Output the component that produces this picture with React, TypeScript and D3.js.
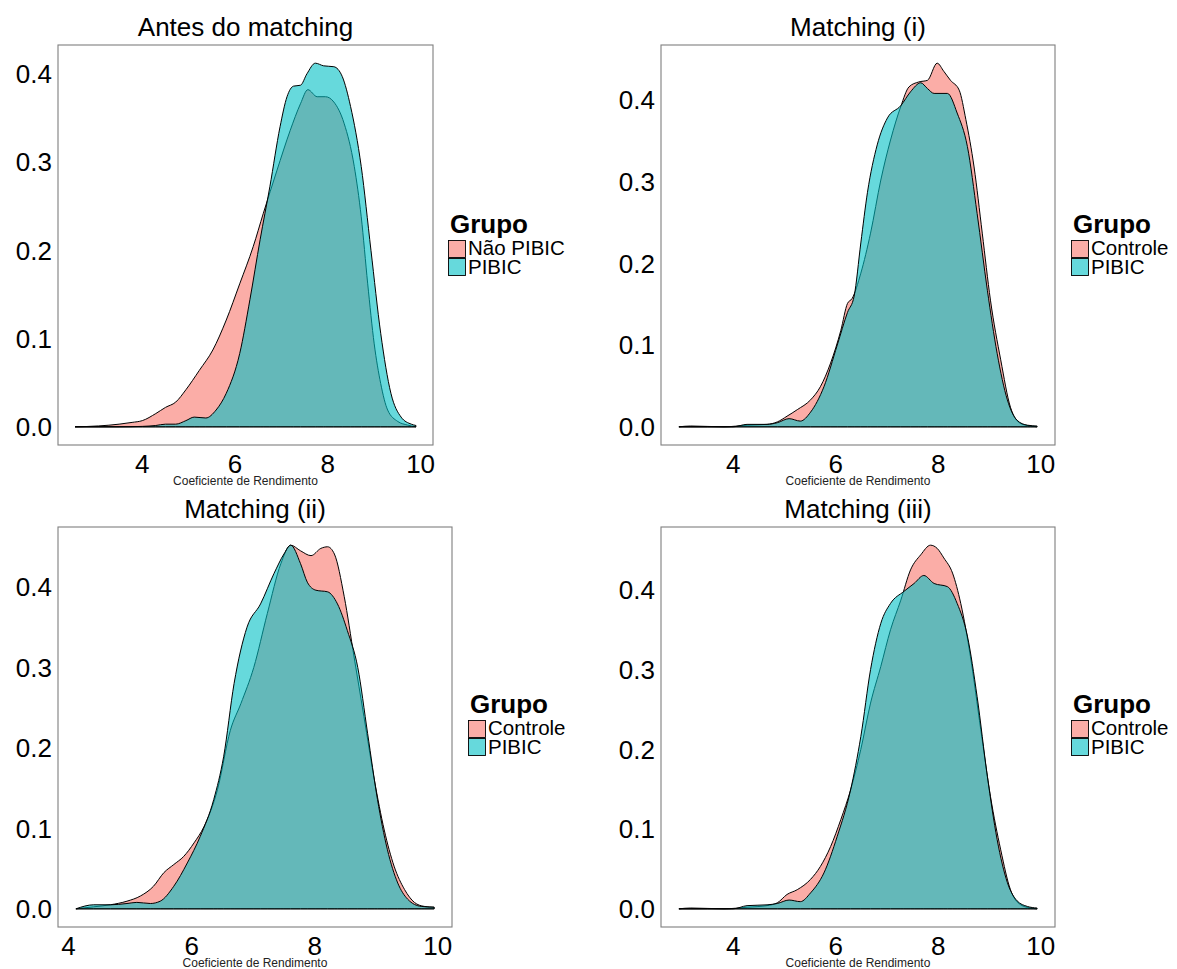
import React from 'react';
import * as d3 from 'd3';

// ---------- data ----------
const xTicks = [4, 6, 8, 10];
const yTicks = [0, 0.1, 0.2, 0.3, 0.4];
const yTickLabels = ['0.0', '0.1', '0.2', '0.3', '0.4'];
const legendTitle = 'Grupo';
const xAxisTitle = 'Coeficiente de Rendimento';
const panelTitles = ['Antes do matching', 'Matching (i)', 'Matching (ii)', 'Matching (iii)'];
const legendLabels = [
  ['Não PIBIC', 'PIBIC'],
  ['Controle', 'PIBIC'],
  ['Controle', 'PIBIC'],
  ['Controle', 'PIBIC'],
];

// Panel 1: Antes do matching
const antesNaoPibicX = [2.55, 3.06, 3.5, 3.78, 4.0, 4.29, 4.5, 4.72, 4.94, 5.23, 5.52, 5.81, 6.1, 6.39, 6.61, 6.9, 7.19, 7.41, 7.57, 7.77, 7.95, 8.13, 8.35, 8.57, 8.72, 8.86, 9.0, 9.14, 9.29, 9.51, 9.72, 9.9];
const antesNaoPibicY = [0, 0.001, 0.003, 0.005, 0.007, 0.015, 0.022, 0.028, 0.042, 0.064, 0.087, 0.121, 0.162, 0.204, 0.242, 0.29, 0.336, 0.366, 0.382, 0.374, 0.374, 0.368, 0.344, 0.295, 0.238, 0.162, 0.094, 0.049, 0.019, 0.006, 0.002, 0];
const antesPibicX = [2.55, 3.5, 4.0, 4.29, 4.5, 4.72, 4.94, 5.12, 5.37, 5.59, 5.81, 6.1, 6.32, 6.54, 6.75, 6.97, 7.12, 7.26, 7.41, 7.55, 7.73, 7.91, 8.13, 8.31, 8.49, 8.72, 8.93, 9.14, 9.36, 9.58, 9.8, 9.9];
const antesPibicY = [0, 0, 0.0005, 0.0015, 0.003, 0.003, 0.007, 0.011, 0.01, 0.019, 0.038, 0.083, 0.144, 0.212, 0.272, 0.34, 0.374, 0.386, 0.387, 0.4, 0.412, 0.409, 0.408, 0.397, 0.363, 0.295, 0.2, 0.106, 0.038, 0.011, 0.003, 0.0015];

// Panel 2: Matching (i)
const m1ControleX = [2.94, 3.17, 3.82, 4.27, 4.66, 4.86, 5.05, 5.25, 5.51, 5.7, 5.9, 6.1, 6.23, 6.32, 6.49, 6.68, 6.88, 7.07, 7.27, 7.43, 7.62, 7.79, 7.98, 8.11, 8.24, 8.41, 8.54, 8.7, 8.86, 9.02, 9.22, 9.41, 9.61, 9.8, 9.93];
const m1ControleY = [0, 0.001, 0, 0.002, 0.003, 0.006, 0.013, 0.021, 0.033, 0.049, 0.078, 0.118, 0.151, 0.157, 0.188, 0.237, 0.302, 0.351, 0.392, 0.416, 0.422, 0.424, 0.445, 0.435, 0.424, 0.412, 0.376, 0.318, 0.237, 0.155, 0.082, 0.024, 0.004, 0.001, 0];
const m1PibicX = [2.94, 3.5, 4.0, 4.27, 4.66, 4.86, 5.09, 5.31, 5.51, 5.77, 6.03, 6.23, 6.36, 6.49, 6.62, 6.81, 7.01, 7.27, 7.46, 7.66, 7.79, 7.92, 8.18, 8.37, 8.57, 8.76, 8.96, 9.15, 9.35, 9.54, 9.74, 9.93];
const m1PibicY = [0, 0, 0, 0.003, 0.003, 0.005, 0.01, 0.007, 0.018, 0.049, 0.1, 0.14, 0.16, 0.225, 0.287, 0.345, 0.378, 0.393, 0.41, 0.421, 0.414, 0.408, 0.408, 0.384, 0.343, 0.261, 0.167, 0.09, 0.033, 0.008, 0.002, 0.001];

// Panel 3: Matching (ii)
const m2ControleX = [4.12, 4.41, 4.68, 4.95, 5.17, 5.38, 5.55, 5.71, 5.87, 6.04, 6.2, 6.42, 6.63, 6.8, 7.01, 7.23, 7.45, 7.61, 7.77, 7.94, 8.1, 8.21, 8.32, 8.48, 8.64, 8.8, 8.97, 9.13, 9.29, 9.46, 9.62, 9.78, 9.94];
const m2ControleY = [0, 0.0025, 0.005, 0.0095, 0.016, 0.028, 0.045, 0.055, 0.065, 0.082, 0.102, 0.148, 0.222, 0.255, 0.3, 0.367, 0.429, 0.452, 0.445, 0.439, 0.448, 0.45, 0.441, 0.388, 0.313, 0.239, 0.16, 0.098, 0.053, 0.024, 0.008, 0.003, 0.002];
const m2PibicX = [4.12, 4.41, 4.68, 4.95, 5.11, 5.33, 5.49, 5.71, 5.93, 6.14, 6.36, 6.52, 6.69, 6.9, 7.12, 7.34, 7.5, 7.61, 7.77, 7.88, 8.02, 8.21, 8.37, 8.53, 8.7, 8.86, 9.02, 9.18, 9.35, 9.51, 9.73, 9.94];
const m2PibicY = [0, 0.005, 0.005, 0.0066, 0.008, 0.0066, 0.0095, 0.028, 0.057, 0.09, 0.136, 0.189, 0.28, 0.35, 0.379, 0.417, 0.441, 0.452, 0.429, 0.406, 0.396, 0.394, 0.379, 0.346, 0.3, 0.218, 0.136, 0.074, 0.032, 0.012, 0.003, 0.002];

// Panel 4: Matching (iii)
const m3ControleX = [2.94, 3.17, 3.82, 4.27, 4.66, 4.86, 5.05, 5.25, 5.51, 5.7, 5.9, 6.1, 6.29, 6.49, 6.68, 6.88, 7.07, 7.27, 7.46, 7.66, 7.85, 7.98, 8.11, 8.28, 8.44, 8.63, 8.83, 9.02, 9.22, 9.41, 9.61, 9.8, 9.93];
const m3ControleY = [0, 0.001, 0, 0.002, 0.004, 0.0075, 0.018, 0.024, 0.037, 0.053, 0.078, 0.112, 0.149, 0.2, 0.258, 0.304, 0.35, 0.387, 0.425, 0.444, 0.456, 0.452, 0.44, 0.421, 0.383, 0.316, 0.225, 0.141, 0.074, 0.024, 0.005, 0.001, 0];
const m3PibicX = [2.94, 3.5, 4.0, 4.27, 4.66, 4.86, 5.09, 5.31, 5.51, 5.77, 6.03, 6.29, 6.49, 6.68, 6.88, 7.07, 7.33, 7.53, 7.72, 7.92, 8.18, 8.37, 8.57, 8.76, 8.96, 9.15, 9.35, 9.54, 9.74, 9.93];
const m3PibicY = [0, 0, 0, 0.004, 0.005, 0.0067, 0.011, 0.009, 0.02, 0.045, 0.091, 0.149, 0.216, 0.3, 0.358, 0.383, 0.398, 0.408, 0.418, 0.408, 0.404, 0.383, 0.342, 0.266, 0.166, 0.087, 0.033, 0.01, 0.003, 0.001];

const panelSeries = [
  [[antesNaoPibicX, antesNaoPibicY], [antesPibicX, antesPibicY]],
  [[m1ControleX, m1ControleY], [m1PibicX, m1PibicY]],
  [[m2ControleX, m2ControleY], [m2PibicX, m2PibicY]],
  [[m3ControleX, m3ControleY], [m3PibicX, m3PibicY]],
];

// ---------- layout / style ----------
const COLORS = ['#F8766D', '#00BFC4'];
const FONT = 'Liberation Sans, Arial, Helvetica, sans-serif';
const boxes = [
  { l: 58, r: 433, t: 45, b: 445, lx: 448, ly: 233 },
  { l: 661, r: 1055, t: 45, b: 445, lx: 1071, ly: 233 },
  { l: 58, r: 452, t: 527, b: 927, lx: 468, ly: 713 },
  { l: 661, r: 1055, t: 527, b: 927, lx: 1071, ly: 713 },
];

function Panel({ idx }: { idx: number }) {
  const box = boxes[idx];
  const series = panelSeries[idx];
  const allX = series.flatMap((s) => s[0]);
  const allY = series.flatMap((s) => s[1]);
  const xmin = d3.min(allX) as number;
  const xmax = d3.max(allX) as number;
  const ymax = d3.max(allY) as number;
  const xr = xmax - xmin;
  const x = d3.scaleLinear().domain([xmin - 0.05 * xr, xmax + 0.05 * xr]).range([box.l, box.r]);
  const y = d3.scaleLinear().domain([-0.05 * ymax, 1.05 * ymax]).range([box.b, box.t]);
  const area = d3
    .area<[number, number]>()
    .x((d) => x(d[0]))
    .y0(y(0))
    .y1((d) => y(d[1]))
    .curve(d3.curveMonotoneX);
  const cx = (box.l + box.r) / 2;
  const ly = box.ly;
  return (
    <g>
      {series.map((s, i) => {
        const pts = s[0].map((xv, k) => [xv, s[1][k]] as [number, number]);
        return (
          <path
            key={i}
            d={area(pts) as string}
            fill={COLORS[i]}
            fillOpacity={0.6}
            stroke="#000"
            strokeWidth={1}
            strokeLinejoin="round"
          />
        );
      })}
      <rect x={box.l} y={box.t} width={box.r - box.l} height={box.b - box.t} fill="none" stroke="#7f7f7f" strokeWidth={1.1} />
      <text x={cx} y={box.t - 9} textAnchor="middle" fontSize={26} fontFamily={FONT} fill="#000">
        {panelTitles[idx]}
      </text>
      {yTicks.map((v, i) => (
        <text key={'y' + i} x={box.l - 6} y={y(v)} dy="0.36em" textAnchor="end" fontSize={26} fontFamily={FONT} fill="#000">
          {yTickLabels[i]}
        </text>
      ))}
      {xTicks.map((v) => (
        <text key={'x' + v} x={x(v)} y={box.b + 28} textAnchor="middle" fontSize={26} fontFamily={FONT} fill="#000">
          {v}
        </text>
      ))}
      <text x={cx} y={box.b + 40} textAnchor="middle" fontSize={12} fontFamily={FONT} fill="#222">
        {xAxisTitle}
      </text>
      <g>
        <text x={box.lx + 2} y={ly} fontSize={26} fontWeight="bold" fontFamily={FONT} fill="#000">
          {legendTitle}
        </text>
        {legendLabels[idx].map((lab, i) => (
          <g key={lab + i}>
            <rect x={box.lx} y={ly + 7 + i * 18} width={18} height={18} fill="#fff" />
            <rect
              x={box.lx + 0.5}
              y={ly + 7.5 + i * 18}
              width={17}
              height={17}
              fill={COLORS[i]}
              fillOpacity={0.6}
              stroke="#000"
              strokeWidth={0.9}
            />
            <text x={box.lx + 20} y={ly + 22 + i * 19} fontSize={20.5} fontFamily={FONT} fill="#000">
              {lab}
            </text>
          </g>
        ))}
      </g>
    </g>
  );
}

export default function App() {
  return (
    <svg width={1177} height={969} style={{ position: 'absolute', left: 0, top: 0, background: '#fff' }}>
      <rect x={0} y={0} width={1177} height={969} fill="#fff" />
      {[0, 1, 2, 3].map((i) => (
        <Panel key={i} idx={i} />
      ))}
    </svg>
  );
}
